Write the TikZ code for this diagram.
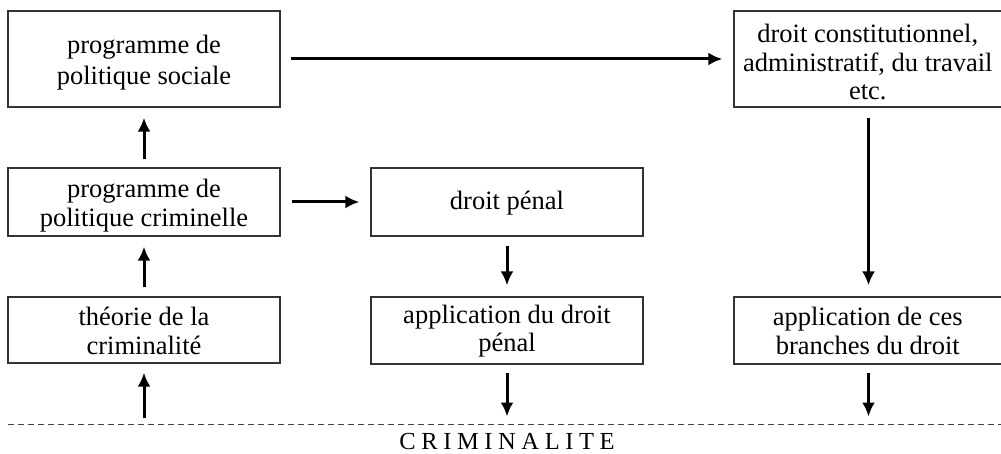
\documentclass[tikz,border=0pt]{standalone}
\usepackage{fontspec}
\setmainfont{Liberation Serif}
\usetikzlibrary{arrows.meta}
\newcommand\lsp{\hspace{5.6pt}}
\begin{document}
\begin{tikzpicture}[x=1pt,y=-1pt,
  box/.style={draw=black!80,line width=1.3pt,rectangle,inner sep=0pt},
  wbox/.style={box,minimum width=272pt},
  ebox/.style={box,minimum width=267.5pt},
  txt/.style={inner sep=0pt,align=center,font=\fontsize{26.5}{28.5}\selectfont},
  arr/.style={line width=3pt,-{Latex[length=14pt,width=13pt]}},
  dline/.style={draw=black!75,line width=1pt,dash pattern=on 6pt off 4pt}]
\useasboundingbox (0,0) rectangle (1001,454);
% boxes
\node[wbox,minimum height=96pt] (b1) at (144,59) {};
\node[wbox,minimum height=68pt] (b3) at (144,202) {};
\node[wbox,minimum height=66pt] (b5) at (144,330) {};
\node[wbox,minimum height=68pt] (b4) at (507,202) {};
\node[wbox,minimum height=67pt] (b6) at (507,330.5) {};
\node[ebox,minimum height=96pt] (b2) at (867.75,59) {};
\node[ebox,minimum height=67pt] (b7) at (867.75,330.5) {};
% texts
\node[txt,font=\fontsize{26.5}{31}\selectfont] (t1) at ([yshift=-4pt]b1.center) {programme de\\politique sociale};
\node[txt] (t3) at ([yshift=-3.5pt]b3.center) {programme de\\politique criminelle};
\node[txt] (t5) at ([yshift=-1pt]b5.center) {théorie de la\\criminalité};
\node[txt,text height=18pt,text depth=6pt] (t4) at ([yshift=-2pt]b4.center) {droit pénal};
\node[txt] (t6) at ([yshift=-0.5pt]b6.center) {application du droit\\pénal};
\node[txt] (t2) at ([yshift=-3pt]b2.center) {droit constitutionnel,\\administratif, du travail\\etc.};
\node[txt] (t7) at ([yshift=-0.5pt]b7.center) {application de ces\\branches du droit};
% dashed line
\coordinate (dl) at (8,424.5);
\coordinate (dr) at (1001,424.5);
\draw[dline] (dl) -- (dr);
\coordinate (d1) at (144,424.5);
\coordinate (d2) at (507,424.5);
\coordinate (d3) at (868.5,424.5);
\node[font=\fontsize{24.5}{29}\selectfont,inner sep=0pt] (crim) at (507,442) {C\lsp R\lsp I\lsp M\lsp I\lsp N\lsp A\lsp L\lsp I\lsp T\lsp E};
% arrows
\draw[arr,shorten <=10pt,shorten >=11pt] (b1) -- (b2);
\draw[arr,shorten <=11pt,shorten >=11pt] (b3) -- (b4);
\draw[arr,shorten <=8pt,shorten >=10pt] (b3.north) -- (b1.south);
\draw[arr,shorten <=9pt,shorten >=10pt] (b5.north) -- (b3.south);
\draw[arr,shorten <=7pt,shorten >=9pt] (d1) -- (b5.south);
\draw[arr,shorten <=9pt,shorten >=11pt] (b4.south) -- (b6.north);
\draw[arr,shorten <=8pt,shorten >=8pt] (b6.south) -- (d2);
\draw[arr,shorten <=10pt,shorten >=11pt] (b2.south -| d3) -- (b7.north -| d3);
\draw[arr,shorten <=8pt,shorten >=8pt] (b7.south -| d3) -- (d3);
\end{tikzpicture}
\end{document}
